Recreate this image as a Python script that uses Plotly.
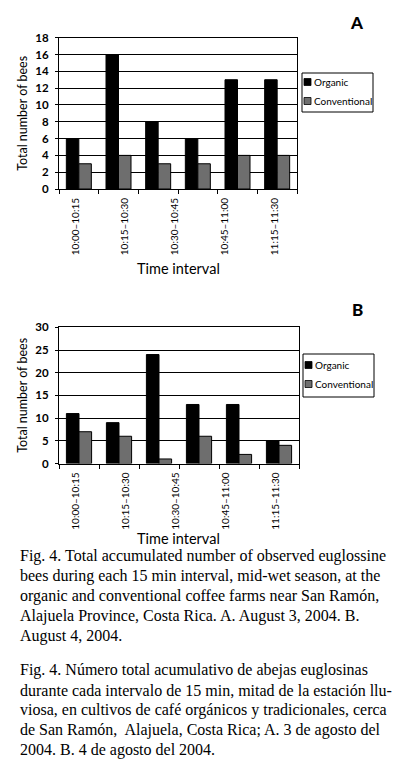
import plotly.graph_objects as go

# ---------------- data ----------------
intervals = ["10:00–10:15", "10:15–10:30", "10:30–10:45",
             "10:45–11:00", "11:00–11:15", "11:15–11:30"]
tick_labels = ["10:00–10:15", "10:15–10:30", "10:30–10:45",
               "10:45–11:00", "11:15–11:30"]
series_names = ["Organic", "Conventional"]

organic_a = [6, 16, 8, 6, 13, 13]
conventional_a = [3, 4, 3, 3, 4, 4]
organic_b = [11, 9, 24, 13, 13, 5]
conventional_b = [7, 6, 1, 6, 2, 4]

caption_en = [
    "Fig. 4. Total accumulated number of observed euglossine",
    "bees during each 15 min interval, mid-wet season, at the",
    "organic and conventional coffee farms near San Ramón,",
    "Alajuela Province, Costa Rica. A. August 3, 2004. B.",
    "August 4, 2004.",
]
caption_es = [
    "Fig. 4. Número total acumulativo de abejas euglosinas",
    "durante cada intervalo de 15 min, mitad de la estación llu-",
    "viosa, en cultivos de café orgánicos y tradicionales, cerca",
    "de San Ramón,  Alajuela, Costa Rica; A. 3 de agosto del",
    "2004. B. 4 de agosto del 2004.",
]

# ---------------- layout helpers ----------------
W, H = 399, 771
def px(x):
    return x / W
def py(y):
    return 1 - y / H

SANS = "Lato"
SERIF = "Liberation Serif"
colors = ["#000000", "#6e6e6e"]

xpos = list(range(len(intervals)))
tick_pos = [-0.07, 1.16, 2.41, 3.67, 4.93]
bound_pos = [i - 0.5 for i in range(len(intervals) + 1)]

fig = go.Figure()
panels = [
    ("x", "y", [organic_a, conventional_a]),
    ("x2", "y2", [organic_b, conventional_b]),
]
for xa, ya, vals in panels:
    for name, v, c in zip(series_names, vals, colors):
        fig.add_trace(go.Bar(
            x=xpos, y=v, name=name, xaxis=xa, yaxis=ya,
            marker=dict(color=c, line=dict(color="black", width=1)),
            hovertext=intervals, showlegend=False,
        ))

def xaxis_cfg(domain, anchor):
    return dict(
        domain=domain, anchor=anchor, range=[-0.5, 5.5], automargin=False,
        tickmode="array", tickvals=tick_pos, ticktext=tick_labels,
        tickangle=-90, ticks="", showgrid=False, zeroline=False,
        tickfont=dict(family=SANS, size=10, color="black"),
        showline=True, linecolor="black", linewidth=1, mirror=True,
        minor=dict(tickmode="array", tickvals=bound_pos, ticks="outside",
                   ticklen=4, tickcolor="black", tickwidth=1, showgrid=False),
        ticklabelstandoff=4,
    )

def yaxis_cfg(domain, anchor, rng, dtick):
    return dict(
        domain=domain, anchor=anchor, range=rng, dtick=dtick, tick0=0,
        automargin=False,
        ticks="outside", ticklen=3, tickcolor="black",
        showgrid=True, gridcolor="black", gridwidth=1, zeroline=False,
        showline=True, linecolor="black", linewidth=1, mirror=True,
        tickfont=dict(family=SANS, size=11.5, color="black", weight="bold"),
        ticklabelstandoff=4,
        title=dict(text="Total number of bees", standoff=4,
                   font=dict(family=SANS, size=12.5, color="black")),
    )

fig.update_layout(
    width=W, height=H,
    margin=dict(l=0, r=0, t=0, b=0, autoexpand=False),
    paper_bgcolor="white", plot_bgcolor="white",
    barmode="group", bargap=0.37, bargroupgap=0,
    showlegend=False,
    xaxis=xaxis_cfg([px(59), px(297)], "y"),
    yaxis=yaxis_cfg([py(189), py(37.7)], "x", [0, 18], 2),
    xaxis2=xaxis_cfg([px(59), px(299)], "y2"),
    yaxis2=yaxis_cfg([py(463.5), py(327.3)], "x2", [0, 30], 5),
)

annotations = []
shapes = []

# panel letters and x-axis titles
for letter, ly, ty in [("A", 22, 268), ("B", 309, 538)]:
    annotations.append(dict(
        text=letter, x=px(357), y=py(ly), xref="paper", yref="paper",
        showarrow=False, xanchor="center", yanchor="middle",
        font=dict(family=SANS, size=17, color="black", weight=900)))
    annotations.append(dict(
        text="Time interval", x=px(178), y=py(ty), xref="paper", yref="paper",
        showarrow=False, xanchor="center", yanchor="middle",
        font=dict(family=SANS, size=14.5, color="black")))

# legends (drawn boxes)
for (x0, y0, x1, y1), rows in [((302, 73, 373, 112), (82, 101)),
                               ((303, 354, 374, 397), (365, 384))]:
    shapes.append(dict(type="rect", xref="paper", yref="paper",
                       x0=px(x0), x1=px(x1), y0=py(y1), y1=py(y0),
                       line=dict(color="black", width=1), fillcolor="white"))
    for name, c, yy in zip(series_names, colors, rows):
        shapes.append(dict(type="rect", xref="paper", yref="paper",
                           x0=px(x0 + 2), x1=px(x0 + 9),
                           y0=py(yy + 3.5), y1=py(yy - 3.5),
                           line=dict(color="black", width=0.8), fillcolor=c))
        annotations.append(dict(
            text=name, x=px(x0 + 10), y=py(yy), xref="paper", yref="paper",
            showarrow=False, xanchor="left", yanchor="middle",
            font=dict(family=SANS, size=10, color="black")))

# captions
for lines, y_start in [(caption_en, 556), (caption_es, 670)]:
    for i, line in enumerate(lines):
        annotations.append(dict(
            text=line, x=px(18), y=py(y_start + 20 * i),
            xref="paper", yref="paper", showarrow=False,
            xanchor="left", yanchor="middle",
            font=dict(family=SERIF, size=16, color="black")))

fig.update_layout(annotations=annotations, shapes=shapes)
fig.write_html("out.html",
               config={"displayModeBar": False},
               post_script="document.body.style.margin='0';"
                           "document.body.style.overflow='hidden';")
